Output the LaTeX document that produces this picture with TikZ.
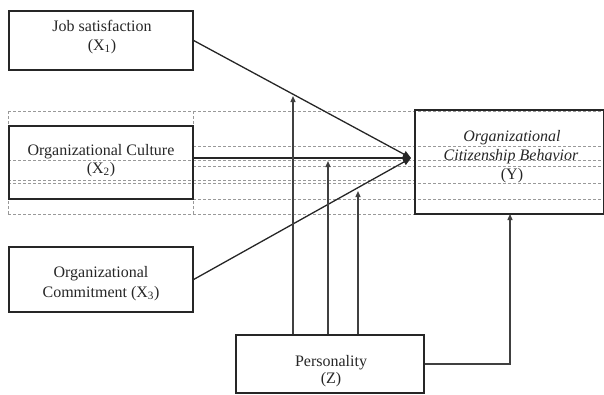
\documentclass[tikz,border=0pt]{standalone}
\usepackage{fontspec}
\setmainfont{Liberation Serif}
\usetikzlibrary{arrows.meta}
\begin{document}
\begin{tikzpicture}[x=1pt,y=-1pt,
  box/.style={draw=black!85, line width=1.3pt, inner sep=0pt},
  gridline/.style={draw=black!40, line width=0.7pt, dash pattern=on 3pt off 2pt},
  txt/.style={font=\fontsize{16}{19}\selectfont, text=black!85, anchor=base, inner sep=0pt},
  arr/.style={draw=black!85, line width=1.3pt, -{Triangle[length=8pt,width=7pt]}},
  varr/.style={draw=black!75, line width=1.3pt, -{Triangle[length=6pt,width=5pt]}}]
\useasboundingbox (0,0) rectangle (604,394);

% dashed table grid
\draw[gridline] (8,111) -- (604,111);
\draw[gridline] (193,146) -- (604,146);
\draw[gridline] (8,160) -- (604,160);
\draw[gridline] (193,166) -- (604,166);
\draw[gridline] (8,180) -- (415,180);
\draw[gridline] (8,183) -- (604,183);
\draw[gridline] (193,199) -- (604,199);
\draw[gridline] (8,214) -- (604,214);
\draw[gridline] (8,111) -- (8,214);
\draw[gridline] (193,111) -- (193,214);

% boxes
\node[box, minimum width=184pt, minimum height=59pt] (js) at (101,40.5) {};
\node[box, minimum width=184pt, minimum height=73pt] (oc) at (101,162.5) {};
\node[box, minimum width=184pt, minimum height=65pt] (cm) at (101,279.5) {};
\node[box, minimum width=189pt, minimum height=104pt] (ocb) at (509.5,162) {};
\node[box, minimum width=188pt, minimum height=58pt] (pz) at (330,364) {};

% texts
\node[txt] (t1a) at (102,31) {Job satisfaction};
\node[txt] (t1b) at (102,50) {(X\textsubscript{1})};
\node[txt] (t2a) at (101,155) {Organizational Culture};
\node[txt] (t2b) at (101,173) {(X\textsubscript{2})};
\node[txt] (t3a) at (101,277) {Organizational};
\node[txt] (t3b) at (101,297) {Commitment (X\textsubscript{3})};
\node[txt] (t4a) at (512,141) {\itshape Organizational};
\node[txt] (t4b) at (511,160) {\itshape Citizenship Behavior};
\node[txt] (t4c) at (512,179) {(Y)};
\node[txt] (t5a) at (331,366) {Personality};
\node[txt] (t5b) at (331,383) {(Z)};

% connectors
\coordinate (tip) at (411,158);
\draw[arr] (js.east) -- (tip);
\draw[arr] (oc.east |- tip) -- (tip);
\draw[arr] (cm.east) -- (tip);

\coordinate (v1) at (293,96);
\coordinate (v2) at (328,161);
\coordinate (v3) at (358,191);
\coordinate (v4) at (510,214);
\draw[varr] (v1 |- pz.north) -- (v1);
\draw[varr] (v2 |- pz.north) -- (v2);
\draw[varr] (v3 |- pz.north) -- (v3);
\draw[varr] (pz.east) -| (v4);
\end{tikzpicture}
\end{document}
